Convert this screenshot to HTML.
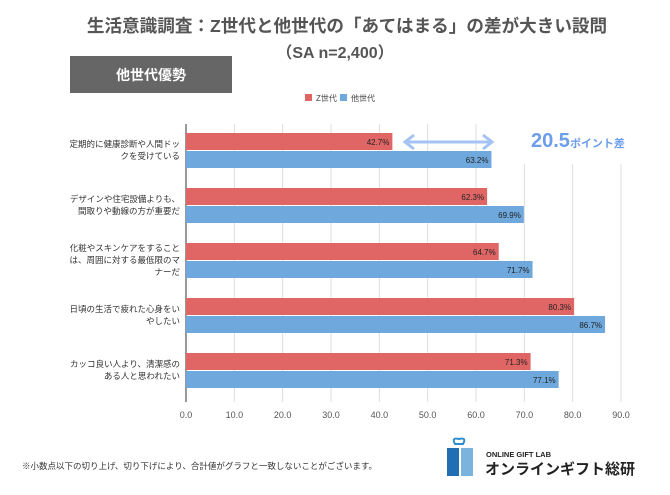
<!DOCTYPE html>
<html><head><meta charset="utf-8"><style>
body{margin:0;width:670px;height:490px;background:#fff;font-family:"Liberation Sans","Noto Sans CJK JP",sans-serif;overflow:hidden}
</style></head><body>
<svg width="670" height="490" id="svg" font-family="Liberation Sans, Noto Sans CJK JP, sans-serif">
<text x="347" y="32" text-anchor="middle" font-size="17.6" font-weight="bold" fill="#555">生活意識調査：Z世代と他世代の「あてはまる」の差が大きい設問</text>
<text x="335" y="58" text-anchor="middle" font-size="16" font-weight="bold" fill="#555">（SA n=2,400）</text>
<rect x="70" y="56" width="162" height="37" fill="#666"/>
<text x="151" y="80" text-anchor="middle" font-size="14" font-weight="bold" fill="#fff">他世代優勢</text>
<g>
<rect x="305" y="94" width="7" height="7" fill="#e06666"/>
<text x="316" y="101" font-size="8" fill="#444">Z世代</text>
<rect x="340" y="94" width="7" height="7" fill="#6fa8dc"/>
<text x="351" y="101" font-size="8" fill="#444">他世代</text>
</g>
<g id="grid"></g><g id="bars"></g><g id="labels"></g>
<rect x="522" y="118" width="128" height="46" fill="#fff"/>
<g stroke="#a4c2f4" stroke-width="3" fill="none">
<line x1="406" y1="142" x2="491" y2="142"/>
<polyline points="414,135 405,142 414,149"/>
<polyline points="483,135 492,142 483,149"/>
</g>
<text x="531" y="147" fill="#6d9eeb" font-weight="bold"><tspan font-size="20">20.5</tspan><tspan font-size="11">ポイント差</tspan></text>
<text x="22" y="469" font-size="8.5" fill="#333">※小数点以下の切り上げ、切り下げにより、合計値がグラフと一致しないことがございます。</text>
<g>
<rect x="447" y="448" width="12" height="28" fill="#1f6fb2"/>
<rect x="461" y="448" width="12" height="28" fill="#7ab3dd"/>
<path d="M455,444 q-4,-7 4,-5 q8,-2 4,5 z" fill="none" stroke="#2b8ccf" stroke-width="2"/>
<text x="486" y="457" font-size="7.5" font-weight="bold" fill="#222">ONLINE GIFT LAB</text>
<text x="485" y="474" font-size="15" font-weight="bold" fill="#222">オンラインギフト総研</text>
</g>
</svg>
<script>
const categories=[["定期的に健康診断や人間ドッ","クを受けている"],["デザインや住宅設備よりも、","間取りや動線の方が重要だ"],["化粧やスキンケアをすること","は、周囲に対する最低限のマ","ナーだ"],["日頃の生活で疲れた心身をい","やしたい"],["カッコ良い人より、清潔感の","ある人と思われたい"]];
const zGen=[42.7,62.3,64.7,80.3,71.3];
const otherGen=[63.2,69.9,71.7,86.7,77.1];
const ticks=[0,10,20,30,40,50,60,70,80,90];
const NS="http://www.w3.org/2000/svg";
const x0=186,x90=621,yTop=124,yBot=402,gTop=133,gStep=55;
const xs=v=>x0+(x90-x0)*v/90;
function mk(t,a,p){const e=document.createElementNS(NS,t);for(const k in a)e.setAttribute(k,a[k]);p.appendChild(e);return e;}
const grid=document.getElementById('grid'),bars=document.getElementById('bars'),labels=document.getElementById('labels');
ticks.forEach(t=>{
 const l=mk('line',{x1:xs(t),x2:xs(t),y1:yTop,y2:yBot,stroke:t===0?'#333':'#ddd','stroke-width':1},grid);
 
 
 const tx=mk('text',{x:xs(t),y:418,'text-anchor':'middle','font-size':9,fill:'#555'},grid);
 tx.textContent=t.toFixed(1);
 
 
});
categories.forEach((c,i)=>{
 const y=gTop+i*gStep;
 [[zGen[i],'#e06666','z'],[otherGen[i],'#6fa8dc','other']].forEach((s,j)=>{
  const by=y+j*18;
  const r=mk('rect',{x:x0,y:by,width:xs(s[0])-x0,height:17,fill:s[1]},bars);
  
  
  const v=mk('text',{x:xs(s[0])-3,y:by+12,'text-anchor':'end','font-size':8,fill:'#222'},bars);
  v.textContent=s[0].toFixed(1)+'%';
  
  
 });
 const n=c.length,cy=y+17-(n-1)*6+3;
 c.forEach((line,k)=>{
  const t=mk('text',{x:180,y:cy+k*12,'text-anchor':'end','font-size':8.5,fill:'#333'},labels);
  t.textContent=line;
  
  
 });
});
</script>
</body></html>
